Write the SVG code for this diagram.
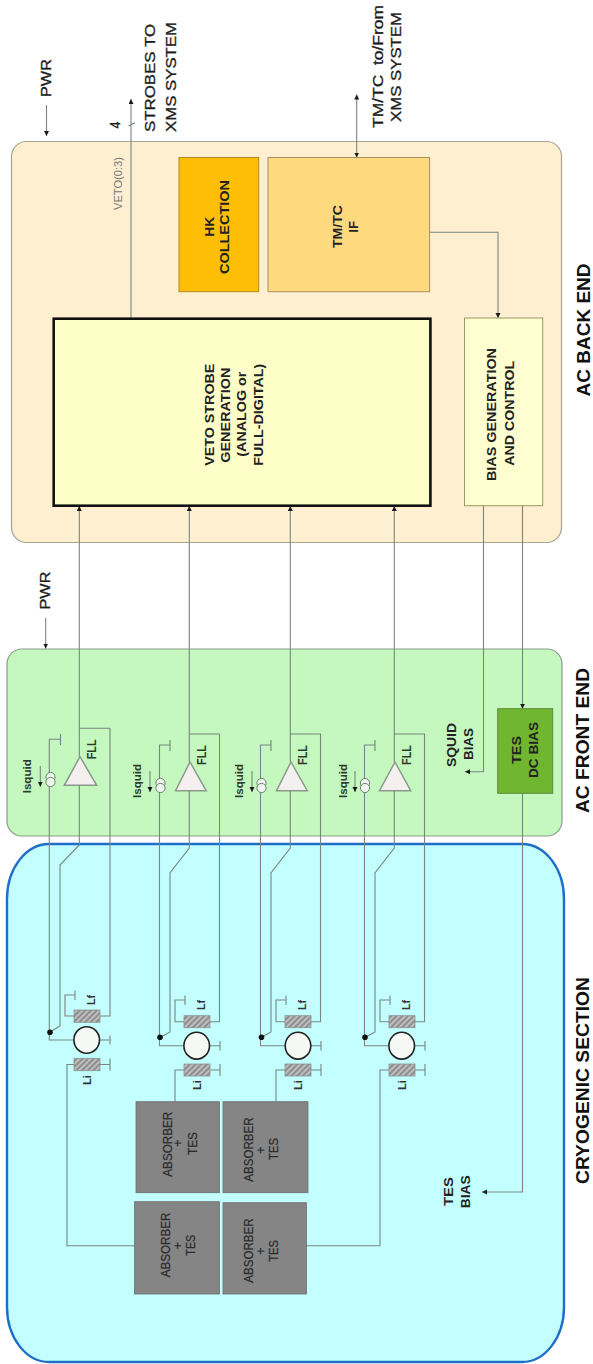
<svg xmlns="http://www.w3.org/2000/svg" width="593" height="1364" viewBox="0 0 593 1364">
<style>
text{font-family:"Liberation Sans",Arial,sans-serif;font-weight:bold;fill:#222}
.out{font-size:14px;font-weight:normal;fill:#1c1c1c;stroke:#1c1c1c;stroke-width:.3}
.sec{font-size:18px;fill:#111}
.blk{font-size:13px}
.abs{font-size:12.5px;fill:#2c2c2c;font-weight:normal;stroke:#2c2c2c;stroke-width:.25}
.isq{font-size:11px;fill:#2c3c2c}
.fll{font-size:12px;fill:#2c3c2c}
.ind{font-size:11px;fill:#333}
.veto{font-size:11px;font-weight:normal;fill:#777}
.w{fill:none;stroke:#78867f;stroke-width:1.1}
.b{fill:none;stroke:#78867f;stroke-width:1.1}
.arr{marker-end:url(#ah)}
.amp{fill:#f4f0f0;stroke:#8a9a8a;stroke-width:1.5}
.src{fill:#eef8ee;stroke:#6f806f;stroke-width:1}
.sq{fill:#f6f8f6;stroke:#222;stroke-width:1.6}
.coil{fill:url(#hatch);stroke:#88928e;stroke-width:.8}
.ab{fill:#858585;stroke:#6c6c6c;stroke-width:.8}
</style>
<defs>
<marker id="ah" markerUnits="userSpaceOnUse" markerWidth="6" markerHeight="6" refX="5" refY="2.5" orient="auto-start-reverse"><path d="M0 0L5 2.5L0 5Z" fill="#1a1a1a"/></marker>
<pattern id="hatch" width="4" height="4" patternUnits="userSpaceOnUse" patternTransform="rotate(45)"><rect width="4" height="4" fill="#8e8e8e"/><rect width="1.7" height="4" fill="#c6c6c6"/></pattern>
</defs>
<rect width="593" height="1364" fill="#fff"/>
<g id="sections">
<g id="ac-back-end"><rect x="11.5" y="141.5" width="550" height="401" rx="15" ry="15" fill="#fdefd0" stroke="#a8a493" stroke-width="1.2"/></g>
<g id="ac-front-end"><rect x="7" y="649" width="555" height="187" rx="15" ry="15" fill="#c4f8be" stroke="#8c9c8c" stroke-width="1.2"/></g>
<g id="cryogenic-section"><rect x="7" y="844" width="557" height="518" rx="42" ry="55" fill="#c3fffe" stroke="#1f6fc8" stroke-width="2.4"/></g>
</g>
<g id="connectors">
<path class="w arr" d="M131 318V99"/>
<path class="w" d="M128.6 126L135 122.7"/>
<path class="w arr" style="marker-start:url(#ah)" d="M356.7 157.5V94.5"/>
<path class="w arr" d="M429.6 232.3H498V318"/>
<path class="w arr" d="M46.5 105V136"/>
<path class="w arr" d="M45.7 618V648.5"/>
<path class="w arr" d="M483.5 506V771.7H465"/>
<path class="w arr" d="M522.5 506V708.7"/>
<path class="w arr" d="M522.5 793V1192H482"/>
<!-- channel 1 -->
<path class="w arr" d="M79.3 757V506"/>
<path class="w" d="M79.3 728.3H110V1016H100"/>
<path class="w" d="M79.3 785V845L60 865V1026L50 1032"/>
<path class="w" d="M60.5 739.3H49.3V1040H73"/>
<path class="b" d="M60.5 734V745M74 1016H65V995H75M75 990.5V1000M100 1040H110M110 1035.5V1044.5M100 1064.5H110M110 1058.5V1070.5"/>
<path class="w" d="M74 1064.5H67V1245.7H135"/>
<!-- channel 2 -->
<path class="w arr" d="M189.3 762V506"/>
<path class="w" d="M189.3 734H219.5V1021.7H210"/>
<path class="w" d="M189.3 791V848L170 873V1032L160 1037.5"/>
<path class="w" d="M170 745H159.5V1045.7H183.5"/>
<path class="b" d="M170 740V751M184 1021.7H175V1000H185M185 995.5V1005M210 1045.7H220M220 1041V1050.5M210 1070H220M220 1064V1076"/>
<path class="w" d="M184 1070H175V1101.7"/>
<!-- channel 3 -->
<path class="w arr" d="M290.3 762V506"/>
<path class="w" d="M290.3 734H320.5V1021.7H311"/>
<path class="w" d="M290.3 791V848L271 873V1032L261 1037.5"/>
<path class="w" d="M271 745H260.5V1045.7H284.5"/>
<path class="b" d="M271 740V751M285 1021.7H276V1000H286M286 995.5V1005M311 1045.7H321M321 1041V1050.5M311 1070H321M321 1064V1076"/>
<path class="w" d="M285 1070H276V1101.7"/>
<!-- channel 4 -->
<path class="w arr" d="M394.3 762V506"/>
<path class="w" d="M394.3 734H424.5V1021.7H415"/>
<path class="w" d="M394.3 791V848L375 873V1032L365 1037.5"/>
<path class="w" d="M375 745H364.5V1045.7H388.5"/>
<path class="b" d="M375 740V751M389 1021.7H380V1000H390M390 995.5V1005M415 1045.7H425M425 1041V1050.5M415 1070H425M425 1064V1076"/>
<path class="w" d="M389 1070H380V1245.7H306"/>
</g>
<g id="labels">
<text class="out" textLength="38" lengthAdjust="spacingAndGlyphs" transform="translate(51 97) rotate(-90)">PWR</text>
<text class="out" textLength="38" lengthAdjust="spacingAndGlyphs" transform="translate(50 609.5) rotate(-90)">PWR</text>
<text class="out" textLength="108" lengthAdjust="spacingAndGlyphs" transform="translate(155 132) rotate(-90)">STROBES TO</text>
<text class="out" textLength="110" lengthAdjust="spacingAndGlyphs" transform="translate(175.5 132) rotate(-90)">XMS SYSTEM</text>
<text class="out" textLength="123" lengthAdjust="spacingAndGlyphs" xml:space="preserve" transform="translate(382.5 128) rotate(-90)">TM/TC  to/From</text>
<text class="out" textLength="110" lengthAdjust="spacingAndGlyphs" transform="translate(401 122) rotate(-90)">XMS SYSTEM</text>
<text class="out" textLength="7" lengthAdjust="spacingAndGlyphs" transform="translate(120 128.5) rotate(-90)">4</text>
<text class="veto" textLength="53" lengthAdjust="spacingAndGlyphs" transform="translate(122 210) rotate(-90)">VETO(0:3)</text>
<text class="sec" textLength="133" lengthAdjust="spacingAndGlyphs" transform="translate(590 396.5) rotate(-90)">AC BACK END</text>
<text class="sec" textLength="145" lengthAdjust="spacingAndGlyphs" transform="translate(589 813) rotate(-90)">AC FRONT END</text>
<text class="sec" textLength="207" lengthAdjust="spacingAndGlyphs" transform="translate(589 1184) rotate(-90)">CRYOGENIC SECTION</text>
<text class="blk" textLength="44" lengthAdjust="spacingAndGlyphs" transform="translate(455.7 767) rotate(-90)">SQUID</text>
<text class="blk" textLength="32" lengthAdjust="spacingAndGlyphs" transform="translate(473.3 760) rotate(-90)">BIAS</text>
<text class="blk" textLength="29" lengthAdjust="spacingAndGlyphs" transform="translate(452.7 1206) rotate(-90)">TES</text>
<text class="blk" textLength="33" lengthAdjust="spacingAndGlyphs" transform="translate(470 1208.3) rotate(-90)">BIAS</text>
</g>
<g id="veto-strobe-generation"><rect x="53.7" y="318.7" width="376.7" height="187" fill="#fefec8" stroke="#111" stroke-width="2.6"/>
<text class="blk" textLength="102" lengthAdjust="spacingAndGlyphs" transform="translate(213.7 465.7) rotate(-90)">VETO STROBE</text>
<text class="blk" textLength="95" lengthAdjust="spacingAndGlyphs" transform="translate(229.5 462.7) rotate(-90)">GENERATION</text>
<text class="blk" textLength="85" lengthAdjust="spacingAndGlyphs" transform="translate(246 456.7) rotate(-90)">(ANALOG or</text>
<text class="blk" textLength="102" lengthAdjust="spacingAndGlyphs" transform="translate(263 465.7) rotate(-90)">FULL-DIGITAL)</text></g>
<g id="hk-collection"><rect x="179" y="157.5" width="79.7" height="134.2" fill="#fdbe05" stroke="#b08a20"/>
<text class="blk" textLength="20" lengthAdjust="spacingAndGlyphs" transform="translate(213.5 236.7) rotate(-90)">HK</text>
<text class="blk" textLength="94" lengthAdjust="spacingAndGlyphs" transform="translate(229 274) rotate(-90)">COLLECTION</text></g>
<g id="tmtc-if"><rect x="268" y="157.5" width="161.6" height="134.2" fill="#ffd97e" stroke="#a89060"/>
<text class="blk" textLength="43" lengthAdjust="spacingAndGlyphs" transform="translate(342 248) rotate(-90)">TM/TC</text>
<text class="blk" textLength="11.7" lengthAdjust="spacingAndGlyphs" transform="translate(357.5 232.7) rotate(-90)">IF</text></g>
<g id="bias-generation"><rect x="464.5" y="318" width="78.2" height="187.7" fill="#fefed0" stroke="#9a9a60"/>
<text class="blk" textLength="133" lengthAdjust="spacingAndGlyphs" transform="translate(496 481) rotate(-90)">BIAS GENERATION</text>
<text class="blk" textLength="105" lengthAdjust="spacingAndGlyphs" transform="translate(513.5 465.7) rotate(-90)">AND CONTROL</text></g>
<g id="tes-dc-bias"><rect x="497.7" y="708.7" width="55" height="84.6" fill="#70b62e" stroke="#5c8a3c"/>
<text class="blk" textLength="28" lengthAdjust="spacingAndGlyphs" transform="translate(520.7 764) rotate(-90)">TES</text>
<text class="blk" textLength="56" lengthAdjust="spacingAndGlyphs" transform="translate(538 778) rotate(-90)">DC BIAS</text></g>
<g id="absorber-1"><rect class="ab" x="136" y="1101.7" width="83.4" height="91"/>
<text class="abs" textLength="65" lengthAdjust="spacingAndGlyphs" transform="translate(172 1176.7) rotate(-90)">ABSORBER</text>
<text class="abs" text-anchor="middle" transform="translate(182 1143) rotate(-90)">+</text>
<text class="abs" textLength="23" lengthAdjust="spacingAndGlyphs" transform="translate(196.7 1155) rotate(-90)">TES</text></g>
<g id="absorber-2"><rect class="ab" x="223" y="1101.7" width="85" height="91"/>
<text class="abs" textLength="64.4" lengthAdjust="spacingAndGlyphs" transform="translate(253.4 1181.7) rotate(-90)">ABSORBER</text>
<text class="abs" text-anchor="middle" transform="translate(265 1150) rotate(-90)">+</text>
<text class="abs" textLength="22" lengthAdjust="spacingAndGlyphs" transform="translate(278 1160) rotate(-90)">TES</text></g>
<g id="absorber-3"><rect class="ab" x="134.6" y="1201.7" width="84.8" height="92.3"/>
<text class="abs" textLength="64.6" lengthAdjust="spacingAndGlyphs" transform="translate(170 1277.3) rotate(-90)">ABSORBER</text>
<text class="abs" text-anchor="middle" transform="translate(182 1245.7) rotate(-90)">+</text>
<text class="abs" textLength="21" lengthAdjust="spacingAndGlyphs" transform="translate(195 1255.7) rotate(-90)">TES</text></g>
<g id="absorber-4"><rect class="ab" x="223" y="1202.7" width="83.4" height="91.3"/>
<text class="abs" textLength="64.4" lengthAdjust="spacingAndGlyphs" transform="translate(253.4 1282.7) rotate(-90)">ABSORBER</text>
<text class="abs" text-anchor="middle" transform="translate(265 1251) rotate(-90)">+</text>
<text class="abs" textLength="21.7" lengthAdjust="spacingAndGlyphs" transform="translate(278 1261.7) rotate(-90)">TES</text></g>
<g id="channel-1">
<polygon class="amp" points="80,756.7 64.3,785.3 96.7,785.3"/>
<circle class="src" cx="50.5" cy="777" r="4.6"/><circle class="src" cx="50.5" cy="782" r="4.6"/>
<path class="w arr" d="M40.3 766V786.7"/>
<rect class="coil" x="74" y="1010" width="26" height="12.3"/>
<rect class="coil" x="74" y="1058.3" width="26" height="12.4"/>
<ellipse class="sq" cx="86.7" cy="1040" rx="12.8" ry="13.2"/>
<circle cx="50" cy="1032.3" r="2.8" fill="#111"/>
<text class="isq" textLength="34" lengthAdjust="spacingAndGlyphs" transform="translate(30.7 793.3) rotate(-90)">Isquid</text>
<text class="fll" textLength="20" lengthAdjust="spacingAndGlyphs" transform="translate(96 759.3) rotate(-90)">FLL</text>
<text class="ind" textLength="10" lengthAdjust="spacingAndGlyphs" transform="translate(95 1005) rotate(-90)">Lf</text>
<text class="ind" textLength="10" lengthAdjust="spacingAndGlyphs" transform="translate(90.7 1085) rotate(-90)">Li</text>
</g>
<g id="channel-2">
<polygon class="amp" points="190,762 175.5,790.7 206.2,790.7"/>
<circle class="src" cx="160.5" cy="783" r="4.6"/><circle class="src" cx="160.5" cy="788" r="4.6"/>
<path class="w arr" d="M150 771V792"/>
<rect class="coil" x="184" y="1015.7" width="26" height="12"/>
<rect class="coil" x="184" y="1064" width="26" height="12"/>
<ellipse class="sq" cx="196.7" cy="1045.7" rx="12.8" ry="13.4"/>
<circle cx="160" cy="1037.3" r="2.8" fill="#111"/>
<text class="isq" textLength="34" lengthAdjust="spacingAndGlyphs" transform="translate(141.3 798) rotate(-90)">Isquid</text>
<text class="fll" textLength="20" lengthAdjust="spacingAndGlyphs" transform="translate(206 765) rotate(-90)">FLL</text>
<text class="ind" textLength="10" lengthAdjust="spacingAndGlyphs" transform="translate(205 1010) rotate(-90)">Lf</text>
<text class="ind" textLength="10" lengthAdjust="spacingAndGlyphs" transform="translate(200.7 1090) rotate(-90)">Li</text>
</g>
<g id="channel-3">
<polygon class="amp" points="291,762 276.5,790.7 307.2,790.7"/>
<circle class="src" cx="261.5" cy="783" r="4.6"/><circle class="src" cx="261.5" cy="788" r="4.6"/>
<path class="w arr" d="M252 771V792"/>
<rect class="coil" x="285" y="1015.7" width="26" height="12"/>
<rect class="coil" x="285" y="1064" width="26" height="12"/>
<ellipse class="sq" cx="298" cy="1045.7" rx="12.8" ry="13.4"/>
<circle cx="261.5" cy="1037.3" r="2.8" fill="#111"/>
<text class="isq" textLength="34" lengthAdjust="spacingAndGlyphs" transform="translate(243 798) rotate(-90)">Isquid</text>
<text class="fll" textLength="20" lengthAdjust="spacingAndGlyphs" transform="translate(307 765) rotate(-90)">FLL</text>
<text class="ind" textLength="10" lengthAdjust="spacingAndGlyphs" transform="translate(306 1010) rotate(-90)">Lf</text>
<text class="ind" textLength="10" lengthAdjust="spacingAndGlyphs" transform="translate(301.7 1090) rotate(-90)">Li</text>
</g>
<g id="channel-4">
<polygon class="amp" points="395,762 379.5,790.7 410.7,790.7"/>
<circle class="src" cx="365" cy="783" r="4.6"/><circle class="src" cx="365" cy="788" r="4.6"/>
<path class="w arr" d="M355 771V792"/>
<rect class="coil" x="389" y="1015.7" width="26" height="12"/>
<rect class="coil" x="389" y="1064" width="26" height="12"/>
<ellipse class="sq" cx="401.7" cy="1045.7" rx="12.8" ry="13.4"/>
<circle cx="365" cy="1037.3" r="2.8" fill="#111"/>
<text class="isq" textLength="34" lengthAdjust="spacingAndGlyphs" transform="translate(347.3 798) rotate(-90)">Isquid</text>
<text class="fll" textLength="20" lengthAdjust="spacingAndGlyphs" transform="translate(411 765) rotate(-90)">FLL</text>
<text class="ind" textLength="10" lengthAdjust="spacingAndGlyphs" transform="translate(410 1010) rotate(-90)">Lf</text>
<text class="ind" textLength="10" lengthAdjust="spacingAndGlyphs" transform="translate(405.7 1090) rotate(-90)">Li</text>
</g>
</svg>
